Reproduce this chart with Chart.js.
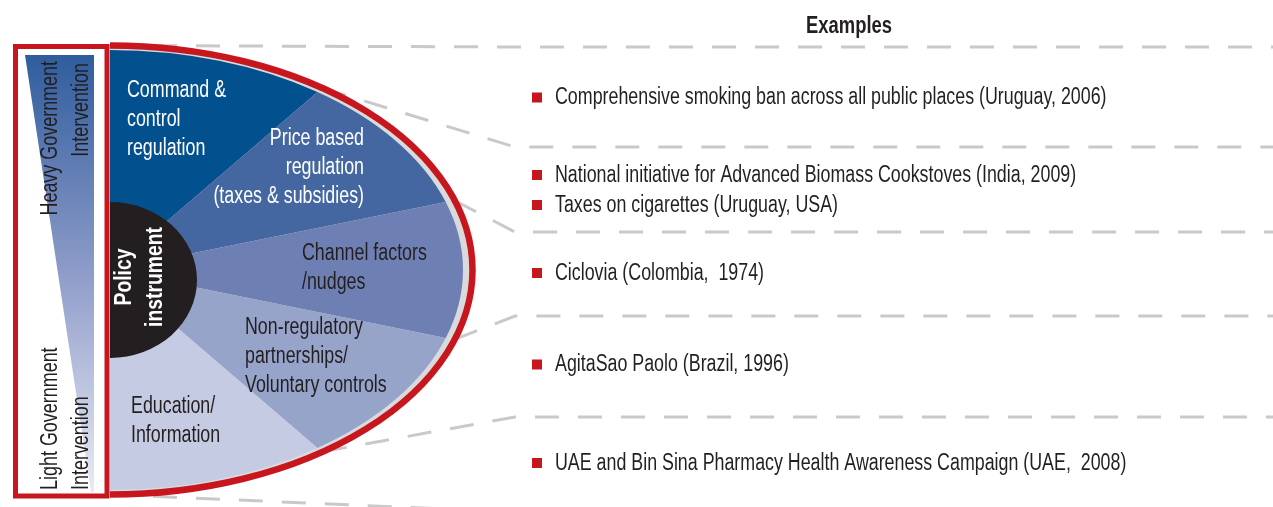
<!DOCTYPE html>
<html>
<head>
<meta charset="utf-8">
<title>Policy instruments and examples</title>
<script src="https://cdn.jsdelivr.net/npm/chart.js@4.4.1/dist/chart.umd.min.js"></script>
<style>
  html, body { margin: 0; padding: 0; background: #ffffff; }
  #wrap { position: relative; width: 1273px; height: 507px; }
</style>
</head>
<body>
<div id="wrap"><canvas id="policyChart" width="1273" height="507"></canvas></div>
<script>
// ============================================================================
// DATA
// ============================================================================

const instrumentNames = [
    'Command & control regulation',
    'Price based regulation (taxes & subsidies)',
    'Channel factors /nudges',
    'Non-regulatory partnerships/ Voluntary controls',
    'Education/ Information'
];
// the five instruments share the half ellipse equally
const instrumentShares = [1, 1, 1, 1, 1];
const instrumentColors = ['#03508f', '#4467a2', '#6e80b3', '#97a4ca', '#c5cbe2'];
const instrumentLines = [
    ['Command &', 'control', 'regulation'],
    ['Price based', 'regulation', '(taxes & subsidies)'],
    ['Channel factors', '/nudges'],
    ['Non-regulatory', 'partnerships/', 'Voluntary controls'],
    ['Education/', 'Information']
];
const centreLines = ['Policy', 'instrument'];
const scaleTopLines = ['Heavy Government', 'Intervention'];
const scaleBottomLines = ['Light Government', 'Intervention'];
const examplesTitle = 'Examples';
const exampleTexts = [
    ['Comprehensive smoking ban across all public places (Uruguay, 2006)'],
    ['National initiative for Advanced Biomass Cookstoves (India, 2009)', 'Taxes on cigarettes (Uruguay, USA)'],
    ['Ciclovia (Colombia,  1974)'],
    ['AgitaSao Paolo (Brazil, 1996)'],
    ['UAE and Bin Sina Pharmacy Health Awareness Campaign (UAE,  2008)']
];

// ============================================================================
// LAYOUT (pixels)
// ============================================================================

const RED = '#c8161e';
const INK = '#231f20';
const FONT = '"Liberation Sans", Arial, sans-serif';
const SIZE = 23;
const SQUEEZE = 0.775;           // condensed look of the original type
const FILL_RX = 353;             // horizontal half width of the coloured half ellipse
const RING = { rx: 362.5, ry: 224.5 };
const HUB = { dy: 10, rx: 87, ry: 78 };
const sliceLabelPos = [
    { x: 127, y: 91, align: 'left', color: '#ffffff' },
    { x: 364, y: 139, align: 'right', color: '#ffffff' },
    { x: 302, y: 254, align: 'left', color: INK },
    { x: 245, y: 328, align: 'left', color: INK },
    { x: 131, y: 407, align: 'left', color: INK }
];
const LINE_H = 28.6;
const bandY = [47, 147, 232, 316, 417, 512];
const rowY = [[98], [175.5, 205.5], [273.5], [365], [463.5]];

function drawText(ctx, str, x, y, opt = {}) {
    ctx.save();
    ctx.translate(x, y);
    if (opt.rot) ctx.rotate(opt.rot);
    ctx.scale(opt.squeeze || SQUEEZE, 1);
    ctx.font = `${opt.weight || 'normal'} ${opt.size || SIZE}px ${FONT}`;
    ctx.fillStyle = opt.color || INK;
    ctx.textAlign = opt.align || 'left';
    ctx.textBaseline = 'middle';
    ctx.fillText(str, 0, 0);
    ctx.restore();
}

// ============================================================================
// DECORATION PLUGIN
// ============================================================================

const policyDecor = {
    id: 'policyDecor',
    beforeDatasetsDraw(chart) {
        const ctx = chart.ctx;
        const arcs = chart.getDatasetMeta(0).data;
        const cx = arcs[0].x, cy = arcs[0].y;

        // dashed connectors from each slice boundary to its band of examples
        const angles = [arcs[0].startAngle].concat(arcs.map(a => a.endAngle));
        ctx.save();
        ctx.strokeStyle = '#c9c9c9';
        ctx.lineWidth = 3;
        ctx.setLineDash([24, 19]);
        angles.forEach((a, i) => {
            ctx.beginPath();
            ctx.moveTo(cx + RING.rx * Math.cos(a), cy + RING.ry * Math.sin(a));
            ctx.lineTo(515, bandY[i]);
            ctx.lineTo(1273, bandY[i]);
            ctx.stroke();
        });
        ctx.restore();

        // grey rim under the coloured fill
        ctx.save();
        ctx.fillStyle = '#d9dadc';
        ctx.beginPath();
        ctx.ellipse(cx, cy, RING.rx - 2, RING.ry - 1, 0, -Math.PI / 2, Math.PI / 2);
        ctx.closePath();
        ctx.fill();
        ctx.restore();

        // stretch the half pie into a half ellipse
        const sx = FILL_RX / arcs[0].outerRadius;
        ctx.save();
        ctx.translate(cx, cy);
        ctx.scale(sx, 1);
        ctx.translate(-cx, -cy);
    },
    afterDatasetsDraw(chart) {
        const ctx = chart.ctx;
        ctx.restore();
        const arcs = chart.getDatasetMeta(0).data;
        const cx = arcs[0].x, cy = arcs[0].y;

        // red outline
        ctx.save();
        ctx.strokeStyle = RED;
        ctx.lineWidth = 6.5;
        ctx.beginPath();
        ctx.ellipse(cx, cy, RING.rx, RING.ry, 0, -Math.PI / 2, Math.PI / 2);
        ctx.stroke();

        // dark hub
        ctx.fillStyle = INK;
        ctx.beginPath();
        ctx.ellipse(cx, cy + HUB.dy, HUB.rx, HUB.ry, 0, -Math.PI / 2, Math.PI / 2);
        ctx.closePath();
        ctx.fill();
        ctx.restore();

        // slice labels
        instrumentLines.forEach((lines, i) => {
            const p = sliceLabelPos[i];
            lines.forEach((ln, j) => {
                drawText(ctx, ln, p.x, p.y + j * LINE_H, { align: p.align, color: p.color });
            });
        });
        drawText(ctx, centreLines[0], 125, 277, { rot: -Math.PI / 2, align: 'center', weight: 'bold', color: '#ffffff', squeeze: 0.84 });
        drawText(ctx, centreLines[1], 156, 277, { rot: -Math.PI / 2, align: 'center', weight: 'bold', color: '#ffffff', squeeze: 0.84 });

        // intervention scale box
        ctx.save();
        const grad = ctx.createLinearGradient(0, 55, 0, 492);
        grad.addColorStop(0, '#2f5d9d');
        grad.addColorStop(0.5, '#8e9cc9');
        grad.addColorStop(1, '#e9ebf4');
        ctx.fillStyle = grad;
        ctx.beginPath();
        ctx.moveTo(25, 55);
        ctx.lineTo(94, 55);
        ctx.lineTo(94, 492);
        ctx.lineTo(91, 492);
        ctx.closePath();
        ctx.fill();
        ctx.strokeStyle = RED;
        ctx.lineWidth = 5;
        ctx.strokeRect(15.5, 46.5, 91.5, 449.5);
        ctx.restore();

        drawText(ctx, scaleTopLines[0], 51, 61, { rot: -Math.PI / 2, align: 'right', size: 23, squeeze: 0.78 });
        drawText(ctx, scaleTopLines[1], 82, 63, { rot: -Math.PI / 2, align: 'right', size: 23, squeeze: 0.78 });
        drawText(ctx, scaleBottomLines[0], 51, 490, { rot: -Math.PI / 2, align: 'left', size: 23, squeeze: 0.78 });
        drawText(ctx, scaleBottomLines[1], 82, 490, { rot: -Math.PI / 2, align: 'left', size: 23, squeeze: 0.78 });

        // examples column
        drawText(ctx, examplesTitle, 849, 27, { align: 'center', weight: 'bold', squeeze: 0.8 });
        exampleTexts.forEach((rows, i) => {
            rows.forEach((txt, j) => {
                const y = rowY[i][j];
                ctx.fillStyle = RED;
                ctx.fillRect(532, y - 5.5, 10, 10);
                drawText(ctx, txt, 555, y);
            });
        });
    }
};

// ============================================================================
// CHART
// ============================================================================

const policyCtx = document.getElementById('policyChart').getContext('2d');
const policyChart = new Chart(policyCtx, {
    type: 'pie',
    data: {
        labels: instrumentNames,
        datasets: [{
            data: instrumentShares,
            backgroundColor: instrumentColors,
            borderWidth: 0,
            clip: false
        }]
    },
    options: {
        responsive: false,
        animation: false,
        events: [],
        rotation: 0,
        circumference: 180,
        layout: { padding: { left: 110, right: 943, top: 50, bottom: 17 } },
        plugins: {
            legend: { display: false },
            tooltip: { enabled: false }
        }
    },
    plugins: [policyDecor]
});
</script>
</body>
</html>
